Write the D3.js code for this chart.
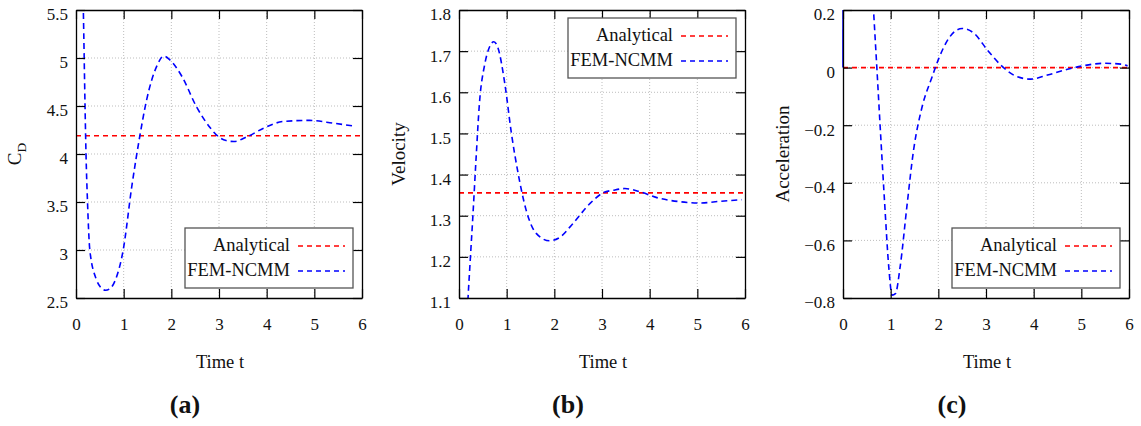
<!DOCTYPE html>
<html>
<head>
<meta charset="utf-8">
<script src="https://cdn.jsdelivr.net/npm/d3@7"></script>
<style>
  html, body { margin: 0; padding: 0; background: #fff; }
  svg { display: block; }
  text { font-family: "Liberation Serif", "Times New Roman", serif; fill: #111; }
</style>
</head>
<body>
<svg id="chart" width="1141" height="426"></svg>
<script>
// ---- shared time axis ----
const timeDomain = [0, 6];
const timeTicks = [0, 1, 2, 3, 4, 5, 6];

// ---- (a) drag coefficient ----
const cdDomain = [2.5, 5.5];
const cdTicks = [2.5, 3, 3.5, 4, 4.5, 5, 5.5];
const cdAnalytical = 4.19;
const cdTime = [0.12, 0.154, 0.19, 0.21, 0.24, 0.29, 0.43, 0.52, 0.62, 0.72, 0.82, 0.99, 1.17, 1.34, 1.48, 1.69, 1.84, 1.97, 2.22, 2.53, 2.82, 2.99, 3.15, 3.31, 3.59, 3.94, 4.36, 4.9, 5.41, 5.85];
const cdFem  = [6.3, 5.5, 4.49, 4.0, 3.52, 3.0, 2.69, 2.61, 2.58, 2.6, 2.68, 3.0, 3.66, 4.19, 4.56, 4.91, 5.02, 4.98, 4.81, 4.49, 4.27, 4.18, 4.14, 4.13, 4.18, 4.27, 4.34, 4.35, 4.32, 4.29];

// ---- (b) velocity ----
const velDomain = [1.1, 1.8];
const velTicks = [1.1, 1.2, 1.3, 1.4, 1.5, 1.6, 1.7, 1.8];
const velAnalytical = 1.3555;
const velTime = [0.1, 0.19, 0.24, 0.29, 0.36, 0.43, 0.54, 0.64, 0.73, 0.82, 0.96, 1.1, 1.24, 1.41, 1.62, 1.9, 2.11, 2.39, 2.75, 3.03, 3.24, 3.48, 3.8, 4.15, 4.64, 5.06, 5.48, 5.93];
const velFem  = [0.85, 1.1, 1.2, 1.297, 1.443, 1.575, 1.668, 1.71, 1.723, 1.707, 1.622, 1.5, 1.403, 1.313, 1.257, 1.239, 1.247, 1.281, 1.33, 1.356, 1.362, 1.366, 1.358, 1.344, 1.334, 1.331, 1.335, 1.339];

// ---- (c) acceleration ----
const accDomain = [-0.8, 0.2];
const accTicks = [-0.8, -0.6, -0.4, -0.2, 0, 0.2];
const accAnalytical = 0;
const accTime = [0, 0.004, 0.3, 0.55, 0.64, 0.71, 0.78, 0.87, 0.96, 1.03, 1.1, 1.2, 1.34, 1.48, 1.66, 1.87, 2.01, 2.22, 2.5, 2.75, 3.03, 3.31, 3.66, 3.94, 4.29, 4.71, 5.06, 5.48, 5.83, 5.97];
const accFem  = [0, 1.0, 1.3, 0.45, 0.2, 0, -0.206, -0.46, -0.692, -0.79, -0.785, -0.69, -0.483, -0.287, -0.136, -0.032, 0.032, 0.102, 0.136, 0.119, 0.061, 0.009, -0.032, -0.04, -0.026, -0.006, 0.007, 0.015, 0.012, 0.006];

const seriesNames = ["Analytical", "FEM-NCMM"];
const seriesColors = ["#ff0000", "#0000ff"];
const captions = ["(a)", "(b)", "(c)"];

const panels = [
  { left: 76,  domain: cdDomain,  ticks: cdTicks,  fmt: d3.format(".1~f"), analytical: cdAnalytical,  t: cdTime,  v: cdFem,  label: "C", sub: "D", legendTop: false, labelX: 21, jump: false },
  { left: 459, domain: velDomain, ticks: velTicks, fmt: d3.format(".1f"),  analytical: velAnalytical, t: velTime, v: velFem, label: "Velocity", legendTop: true, labelX: 405, jump: false },
  { left: 843, domain: accDomain, ticks: accTicks, fmt: d => d === 0 ? "0" : d3.format(".1f")(d), analytical: accAnalytical, t: accTime, v: accFem, label: "Acceleration", legendTop: false, labelX: 789, jump: true }
];

const FONT = "Liberation Serif, Times New Roman, serif";
const W = 286, H = 288, TOP = 10, TICK = 9;
const svg = d3.select("#chart");

panels.forEach((p, i) => {
  const x = d3.scaleLinear().domain(timeDomain).range([0, W]);
  const y = d3.scaleLinear().domain(p.domain).range([H, 0]);
  const g = svg.append("g").attr("transform", `translate(${p.left},${TOP})`);

  // dotted grid
  const grid = g.append("g").attr("stroke", "#bdbdbd").attr("stroke-dasharray", "1,2").attr("stroke-width", 1);
  grid.selectAll("line.v").data(timeTicks.slice(1, -1)).join("line")
    .attr("x1", d => x(d)).attr("x2", d => x(d)).attr("y1", 0).attr("y2", H);
  grid.selectAll("line.h").data(p.ticks.slice(1, -1)).join("line")
    .attr("y1", d => y(d)).attr("y2", d => y(d)).attr("x1", 0).attr("x2", W);

  // curves, clipped to the plot box
  const clipId = "clip" + i;
  g.append("clipPath").attr("id", clipId).append("rect").attr("x", -1).attr("width", W + 1).attr("height", H);
  const plot = g.append("g").attr("clip-path", `url(#${clipId})`);

  plot.append("line")
    .attr("x1", x(timeDomain[0])).attr("x2", x(timeDomain[1]))
    .attr("y1", y(p.analytical)).attr("y2", y(p.analytical))
    .attr("stroke", seriesColors[0]).attr("stroke-width", 1.6).attr("stroke-dasharray", "5,4");

  const pts = p.t.map((t, k) => [t, p.v[k]]);
  const line = d3.line().x(d => x(d[0])).y(d => y(d[1])).curve(d3.curveMonotoneX);
  // the initial impulse at t = 0 reads as a solid stroke along the axis
  if (p.jump) {
    plot.append("path").datum(pts.slice(0, 2)).attr("d", d3.line().x(d => x(d[0])).y(d => y(d[1])))
      .attr("fill", "none").attr("stroke", seriesColors[1]).attr("stroke-width", 1.6);
  }
  plot.append("path").datum(p.jump ? pts.slice(1) : pts).attr("d", line)
    .attr("fill", "none").attr("stroke", seriesColors[1]).attr("stroke-width", 1.6)
    .attr("stroke-dasharray", "6,4");

  // axes with inward ticks on all four sides
  const styleAxis = sel => {
    sel.selectAll("path.domain").attr("stroke", "#000").attr("stroke-width", 1.3);
    sel.selectAll(".tick line").attr("stroke", "#000").attr("stroke-width", 1.2);
    sel.selectAll("text").attr("font-family", FONT).attr("font-size", 17).attr("fill", "#111");
  };
  g.append("g").attr("transform", `translate(0,${H})`)
    .call(d3.axisBottom(x).tickValues(timeTicks).tickFormat(d3.format("d")).tickSizeInner(-TICK).tickSizeOuter(0).tickPadding(20))
    .call(styleAxis);
  g.append("g")
    .call(d3.axisTop(x).tickValues(timeTicks).tickFormat("").tickSizeInner(-TICK).tickSizeOuter(0))
    .call(styleAxis);
  const yl = g.append("g")
    .call(d3.axisLeft(y).tickValues(p.ticks).tickFormat(p.fmt).tickSizeInner(-TICK).tickSizeOuter(0).tickPadding(8))
    .call(styleAxis);
  yl.selectAll("text").attr("dy", "0.58em");
  g.append("g").attr("transform", `translate(${W},0)`)
    .call(d3.axisRight(y).tickValues(p.ticks).tickFormat("").tickSizeInner(-TICK).tickSizeOuter(0))
    .call(styleAxis);

  // axis titles
  g.append("text").attr("x", W / 2 + 1).attr("y", 358)
    .attr("text-anchor", "middle").attr("font-size", 18.5).text("Time t");
  const yt = svg.append("text")
    .attr("transform", `translate(${p.labelX},${TOP + H / 2}) rotate(-90)`)
    .attr("text-anchor", "middle").attr("font-size", 19);
  yt.append("tspan").text(p.label);
  if (p.sub) yt.append("tspan").attr("font-size", 13.5).attr("dy", 5).text(p.sub);

  // caption
  svg.append("text").attr("x", p.left + 109).attr("y", 413)
    .attr("text-anchor", "middle").attr("font-size", 26).attr("font-weight", "bold")
    .text(captions[i]);

  // legend
  const lw = 168, lh = 60;
  const lx = W - 9 - lw, ly = p.legendTop ? 8 : H - 10 - lh;
  const lg = g.append("g").attr("transform", `translate(${lx},${ly})`);
  lg.append("rect").attr("width", lw).attr("height", lh)
    .attr("fill", "#fff").attr("stroke", "#555").attr("stroke-width", 1.3);
  seriesNames.forEach((name, k) => {
    const ry = 18 + k * 25;
    lg.append("text").attr("x", 105).attr("y", ry + 5).attr("text-anchor", "end")
      .attr("font-size", 18.5).text(name);
    lg.append("line").attr("x1", 113).attr("x2", 160).attr("y1", ry).attr("y2", ry)
      .attr("stroke", seriesColors[k]).attr("stroke-width", 1.6).attr("stroke-dasharray", "5,4");
  });
});
</script>
</body>
</html>
